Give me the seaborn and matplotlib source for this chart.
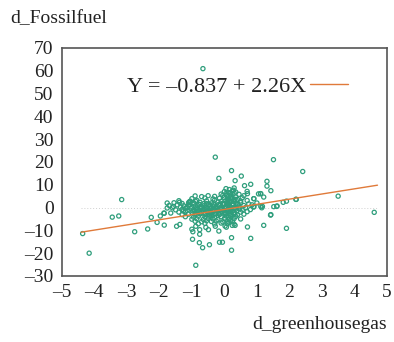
import pandas as pd
import seaborn as sns
import matplotlib.pyplot as plt
import numpy as np


# Valores: puntos alejados del nucleo
outlier_x = [-0.66, -4.36, -4.16, -3.16, -3.45, -3.25, -2.76, -2.36, -2.25, -2.07,
             -1.97, -1.85, -1.85, -1.76, -1.76, 1.51, 2.41, 1.31, 1.31, 1.43,
             1.12, 1.21, 1.81, 1.91, 2.21, 3.50, 4.61, 1.52, 1.62, 1.43,
             1.21, 1.91, 1.12, -0.28, 0.22, -0.17, 0.52, 0.33, 0.81, -0.88,
             0.22, -0.15, -0.06, -0.46, -0.67, -0.77, -0.98, 0.22, 0.81, 0.71,
             -1.47, -1.37, -1.00, -0.88, -0.76, -0.57, -0.49, -0.28, -0.17, 0.02,
             0.33, -0.97, -0.76, 0.62, 0.71, 1.11, 1.42, 0.91, -1.38, -1.57,
             -1.65, -1.86, -1.07, -0.89, -1.15, -1.26, 1.17, 0.91, 1.61, 2.20]
outlier_y = [60.9, -11.4, -20.0, 3.5, -4.2, -3.7, -10.6, -9.4, -4.3, -6.5,
             -3.7, -7.7, -2.5, 2.0, -0.2, 21.0, 15.8, 11.5, 9.4, 7.4,
             6.1, 4.6, 2.3, 2.8, 3.6, 5.0, -2.1, 0.4, 0.7, -3.1,
             -7.8, -9.1, 0.5, 22.1, 16.2, 12.8, 13.8, 11.8, 10.2, -25.3,
             -18.7, -15.2, -15.2, -16.3, -17.6, -15.4, -13.9, -13.2, -13.5, -8.5,
             -8.2, -7.4, -9.5, -8.2, -9.7, -8.7, -9.7, -8.2, -10.3, -8.1,
             -7.8, -10.6, -11.7, 9.6, 6.1, 6.1, -3.3, 3.9, 2.3, 0.5,
             -2.4, -2.4, 2.6, 2.8, 0.0, -1.5, 0.5, 0.5, 0.5, 3.6]

# Nucleo denso de observaciones
core_x = [0.05, 0.15, 0.30, 0.00, 0.12, 0.25, 0.35, 0.70,
          -0.10, 0.05, 0.20, 0.30, 0.45, 1.05,
          -0.90, -0.70, -0.50, -0.30, -0.05, 0.10, 0.20, 0.35, 0.60,
          -1.00, -0.60, -0.35, -0.15, 0.00, 0.10, 0.25, 0.40, 0.55, 0.90,
          -1.40, -1.05, -0.85, -0.55, -0.30, -0.10, 0.05, 0.15, 0.30, 0.50, 0.70,
          -1.55, -1.30, -1.10, -0.95, -0.75, -0.55, -0.40, -0.20, -0.05, 0.10, 0.20, 0.35, 0.50, 0.75, 1.00,
          -1.70, -1.45, -1.25, -1.10, -0.90, -0.75, -0.60, -0.45, -0.30, -0.15, 0.00, 0.10, 0.25, 0.40, 0.60, 0.85,
          -1.60, -1.35, -1.20, -1.00, -0.85, -0.70, -0.55, -0.40, -0.25, -0.10, 0.05, 0.15, 0.30, 0.45, 0.65, 0.90, 1.15,
          -1.50, -1.30, -1.15, -0.95, -0.80, -0.65, -0.50, -0.35, -0.20, -0.05, 0.10, 0.20, 0.35, 0.55, 0.80,
          -1.40, -1.20, -1.00, -0.85, -0.70, -0.55, -0.40, -0.25, -0.10, 0.00, 0.15, 0.30, 0.50, 0.70,
          -1.30, -1.10, -0.90, -0.75, -0.60, -0.45, -0.30, -0.15, 0.05, 0.20, 0.40, 0.60,
          -1.20, -0.95, -0.80, -0.60, -0.45, -0.30, -0.10, 0.05, 0.20, 0.35,
          -1.00, -0.85, -0.65, -0.50, -0.35, -0.20, 0.00, 0.15, 0.30, 0.50,
          -0.90, -0.70, -0.55, -0.40, -0.25, -0.05, 0.10, 0.25,
          -0.80, -0.60, -0.30, -0.10, 0.10, 0.30,
          -0.62, -0.42, -0.18, 0.08, 0.18, 0.28, -0.92, -0.33, 0.02, 0.12,
          -0.72, -0.48, -0.22, 0.04, 0.16, 0.26, -0.58, -0.38, -0.12, 0.07,
          -1.08, -0.93, -0.78, -0.63, -0.48, -0.33, -0.18, -0.03, 0.13, 0.27, 0.42,
          -1.02, -0.87, -0.72, -0.57, -0.42, -0.27, -0.12, 0.03, 0.18, 0.32, 0.47,
          -0.97, -0.82, -0.67, -0.52, -0.37, -0.22, -0.07, 0.08, 0.23, 0.38,
          -0.88, -0.73, -0.58, -0.43, -0.28, -0.13, 0.02, 0.17, 0.32,
          0.08, 0.18, 0.28, 0.14, 0.24, 0.06, 0.22, 0.33, 0.11, 0.19]
core_y = [8.3, 7.9, 8.6, 7.0, 6.6, 7.3, 6.8, 7.1,
          5.9, 6.2, 5.6, 6.4, 5.8, 6.0,
          5.1, 4.8, 5.2, 4.9, 5.3, 4.7, 5.0, 4.6, 5.2,
          3.9, 4.2, 3.8, 4.1, 4.4, 3.7, 4.0, 3.6, 4.3, 3.9,
          3.0, 2.8, 3.2, 2.9, 3.3, 2.7, 3.1, 2.6, 3.4, 2.9, 3.1,
          2.1, 1.8, 2.2, 1.9, 2.3, 1.7, 2.0, 2.4, 1.8, 2.1, 2.5, 1.9, 2.2, 1.6, 2.0,
          0.9, 1.2, 0.8, 1.1, 0.7, 1.3, 1.0, 0.6, 1.2, 0.9, 1.4, 0.8, 1.1, 1.5, 0.9, 1.2,
          -0.1, 0.2, -0.3, 0.1, -0.2, 0.3, 0.0, -0.4, 0.2, -0.1, 0.4, 0.1, -0.2, 0.3, 0.0, 0.2, -0.1,
          -1.0, -0.8, -1.2, -0.9, -1.1, -0.7, -1.3, -0.9, -1.1, -0.8, -1.2, -1.0, -0.7, -1.1, -0.9,
          -2.0, -1.8, -2.2, -1.9, -2.1, -1.7, -2.3, -2.0, -1.8, -2.2, -1.9, -2.1, -2.0, -1.8,
          -3.1, -2.9, -3.2, -2.8, -3.0, -3.3, -2.9, -3.1, -2.7, -3.0, -3.2, -2.9,
          -4.0, -4.2, -3.8, -4.1, -3.9, -4.3, -4.0, -3.7, -4.1, -3.9,
          -5.1, -4.9, -5.2, -4.8, -5.0, -5.3, -4.9, -5.1, -4.8, -5.0,
          -6.0, -6.2, -5.8, -6.1, -5.9, -6.3, -6.0, -5.8,
          -7.1, -6.9, -7.2, -6.8, -7.0, -7.3,
          -0.6, -1.5, -2.6, 1.7, -3.5, 2.7, -1.6, 0.6, -4.6, 3.4,
          0.4, 1.4, -0.6, -2.5, 0.7, -1.4, -2.6, -3.6, 1.6, 5.4,
          1.5, 1.6, 1.4, 1.7, 1.5, 1.6, 1.3, 1.8, 1.5, 1.7, 1.4,
          -0.5, -0.6, -0.4, -0.7, -0.5, -0.4, -0.6, -0.5, -0.7, -0.4, -0.6,
          -1.5, -1.6, -1.4, -1.7, -1.5, -1.4, -1.6, -1.5, -1.7, -1.4,
          -2.5, -2.6, -2.4, -2.7, -2.5, -2.4, -2.6, -2.5, -2.7,
          5.5, 6.5, 7.6, -6.5, -7.8, -8.6, 4.4, 3.6, 2.8, -5.6]

intercept = -0.837
slope = 2.26
legend_label = "Y = –0.837 + 2.26X"

xticks = [-5, -4, -3, -2, -1, 0, 1, 2, 3, 4, 5]
xtick_labels = ["–5", "–4", "–3", "–2", "–1", "0", "1", "2", "3", "4", "5"]
yticks = [-30, -20, -10, 0, 10, 20, 30, 40, 50, 60, 70]
ytick_labels = ["–30", "–20", "–10", "0", "10", "20", "30", "40", "50", "60", "70"]

df = pd.DataFrame({
    "d_greenhousegas": outlier_x + core_x,
    "d_Fossilfuel": outlier_y + core_y,
})

sns.set_style("white")
plt.rcParams["font.family"] = ["Liberation Serif", "DejaVu Serif"]

fig = plt.figure(figsize=(3.94, 3.42), dpi=100)
ax = fig.add_axes([0.157, 0.193, 0.825, 0.667])

x_min = df["d_greenhousegas"].min() - 0.05
x_max = df["d_greenhousegas"].max() + 0.1

# linea de referencia en cero
ax.plot([x_min, x_max], [0, 0], color="#d0d0d0", lw=0.7, ls=(0, (1, 2)), zorder=1)

sns.scatterplot(data=df, x="d_greenhousegas", y="d_Fossilfuel", ax=ax,
                marker="o", s=9, facecolor="none", edgecolor="#2f9e7c",
                linewidth=0.9, zorder=2, legend=False)

fit = pd.DataFrame({"x": [x_min, x_max]})
fit["y"] = intercept + slope * fit["x"]
sns.lineplot(data=fit, x="x", y="y", ax=ax, color="#e07a3a", lw=1.0,
             label=legend_label, zorder=3)

ax.set_xlim(-5, 5)
ax.set_ylim(-30, 70)
ax.set_xticks(xticks)
ax.set_xticklabels(xtick_labels)
ax.set_yticks(yticks)
ax.set_yticklabels(ytick_labels)
ax.tick_params(axis="both", direction="out", length=5, width=1, color="#444444",
               labelsize=14, pad=1, labelcolor="#222222")
for sp in ax.spines.values():
    sp.set_color("#555555")
    sp.set_linewidth(1.2)

ax.set_xlabel("")
ax.set_ylabel("")
fig.text(0.025, 0.945, "d_Fossilfuel", fontsize=14, color="#222222", va="center", ha="left")
fig.text(0.982, 0.05, "d_greenhousegas", fontsize=14, color="#222222", va="center", ha="right")

ax.legend(loc="center", bbox_to_anchor=(0.54, 0.829), frameon=False, markerfirst=False,
          fontsize=16, handlelength=1.7, handletextpad=0.2, labelcolor="#222222")

fig.savefig("out.png", dpi=100)
